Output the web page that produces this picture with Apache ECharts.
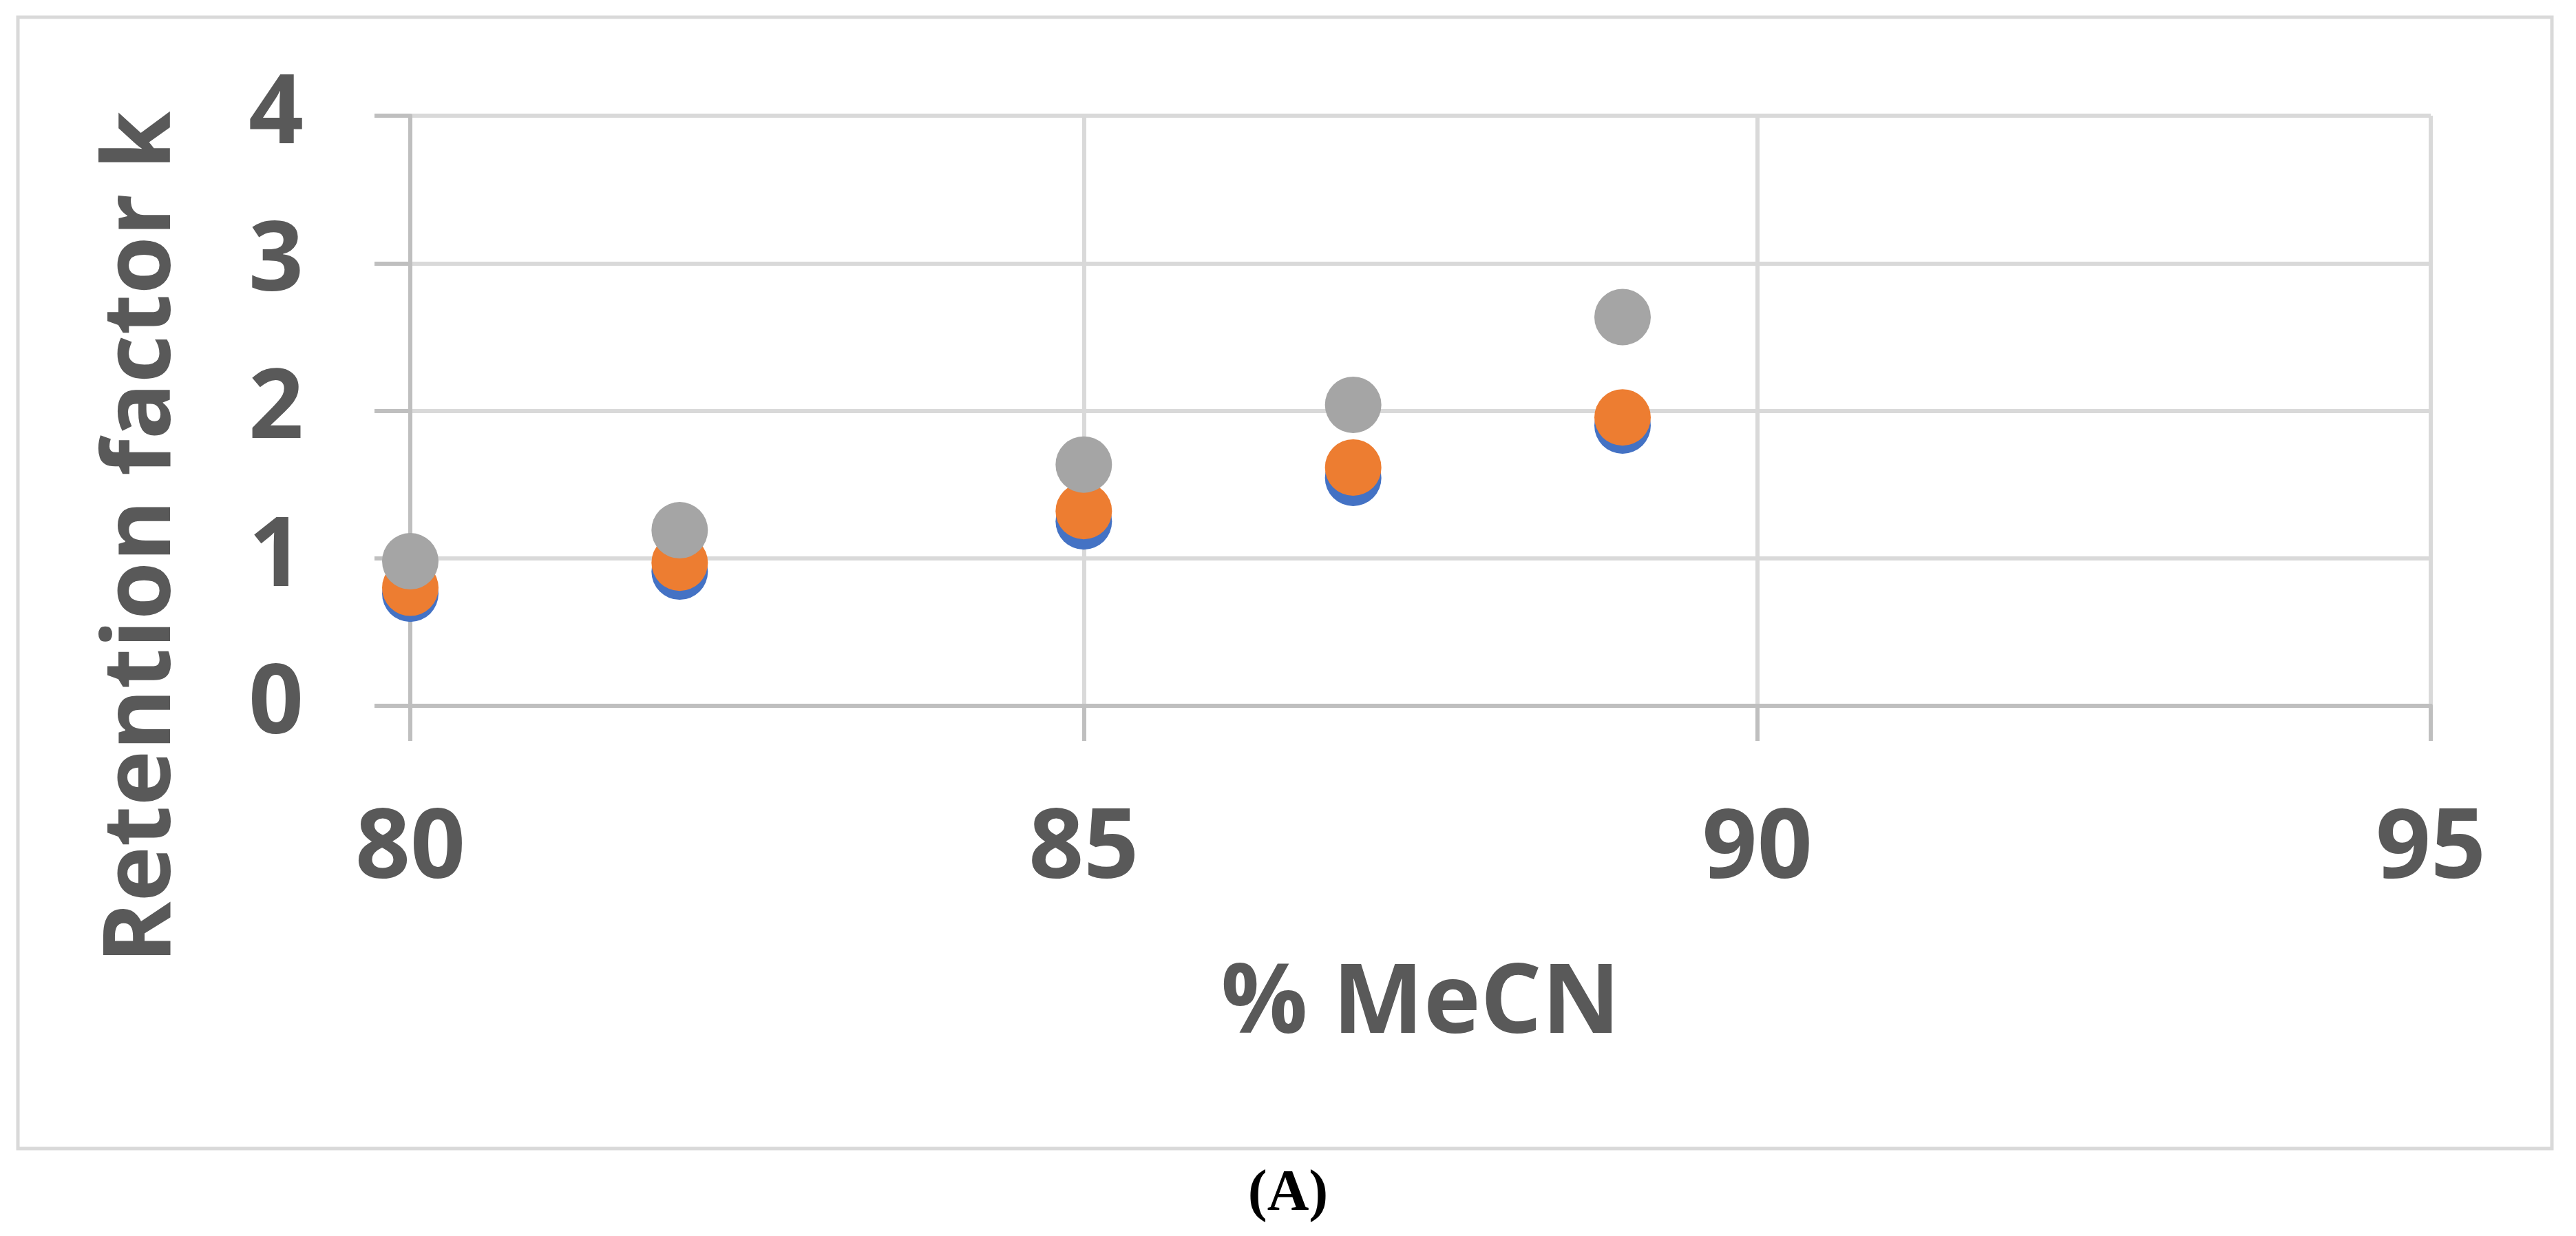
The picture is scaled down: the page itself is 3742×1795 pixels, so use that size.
<!DOCTYPE html>
<html>
<head>
<meta charset="utf-8">
<script src="https://cdn.jsdelivr.net/npm/echarts@6/dist/echarts.min.js"></script>
<style>
html,body{margin:0;padding:0;background:#fff;}
#c{width:3742px;height:1795px;}
</style>
</head>
<body>
<div id="c"></div>
<script>
const xValues = [80, 82, 85, 87, 89];
const seriesBlue = [0.76, 0.91, 1.25, 1.545, 1.90];
const seriesOrange = [0.80, 0.97, 1.32, 1.615, 1.955];
const seriesGray = [0.98, 1.19, 1.635, 2.04, 2.635];
const xTicks = [80, 85, 90, 95];
const yTicks = [0, 1, 2, 3, 4];

const chart = echarts.init(document.getElementById('c'));
function pairs(vals){ return xValues.map((x,i)=>[x, vals[i]]); }
const labelFont = {color:'#595959', fontFamily:'Open Sans', fontWeight:'bold', fontSize:140};
chart.setOption({
  animation:false,
  backgroundColor:'#fff',
  title:{text:'(A)', left:1866, top:1688, textAlign:'center',
    textStyle:{fontFamily:'Liberation Serif', fontWeight:'bold', fontSize:84, color:'#000'}},
  graphic:[{type:'rect', shape:{x:26, y:25, width:3681, height:1643},
    style:{fill:'none', stroke:'#d9d9d9', lineWidth:5}, silent:true}],
  grid:{left:596, right:211, top:168, bottom:770},
  xAxis:{type:'value', min:xTicks[0], max:xTicks[xTicks.length-1], interval:5,
    name:'% MeCN', nameLocation:'middle', nameGap:365,
    nameTextStyle:labelFont,
    axisLine:{show:true, lineStyle:{color:'#bfbfbf', width:6}},
    axisTick:{show:true, length:51, lineStyle:{color:'#bfbfbf', width:6}},
    axisLabel:Object.assign({margin:140}, labelFont),
    splitLine:{show:true, lineStyle:{color:'#d9d9d9', width:6}}},
  yAxis:{type:'value', min:yTicks[0], max:yTicks[yTicks.length-1], interval:1,
    name:'Retention factor k', nameLocation:'middle', nameGap:320,
    nameTextStyle:Object.assign({padding:[0,368,0,0]}, labelFont, {fontSize:136}),
    axisLine:{show:true, lineStyle:{color:'#bfbfbf', width:6}},
    axisTick:{show:true, length:52, lineStyle:{color:'#bfbfbf', width:6}},
    axisLabel:Object.assign({margin:155}, labelFont),
    splitLine:{show:true, lineStyle:{color:'#d9d9d9', width:6}}},
  series:[
    {type:'scatter', name:'Blue', data:pairs(seriesBlue), symbolSize:82, itemStyle:{color:'#4472C4', opacity:1}},
    {type:'scatter', name:'Orange', data:pairs(seriesOrange), symbolSize:82, itemStyle:{color:'#ED7D31', opacity:1}},
    {type:'scatter', name:'Gray', data:pairs(seriesGray), symbolSize:82, itemStyle:{color:'#A5A5A5', opacity:1}}
  ]
});
</script>
</body>
</html>
